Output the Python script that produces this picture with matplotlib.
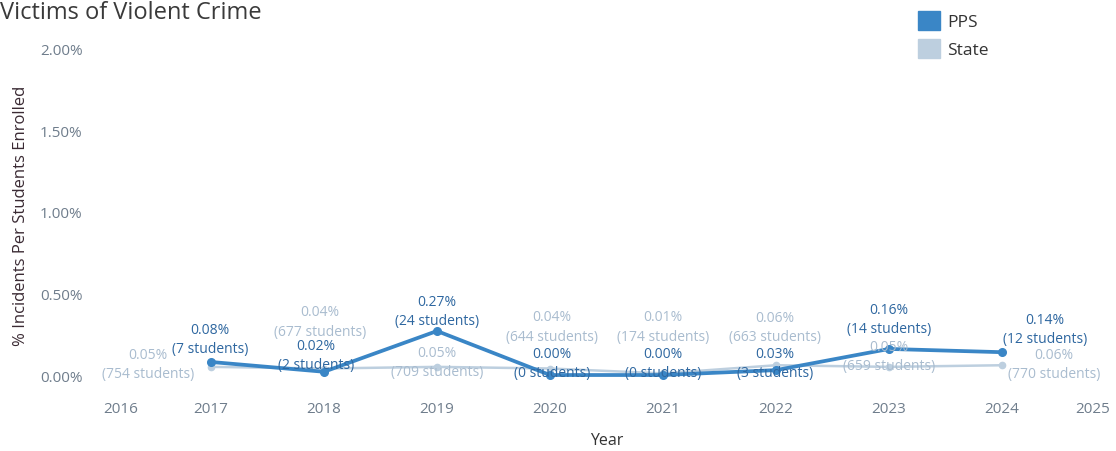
import matplotlib
matplotlib.use("Agg")
import matplotlib.pyplot as plt
from matplotlib.patches import Patch

# ---- data -------------------------------------------------------------
years = [2017, 2018, 2019, 2020, 2021, 2022, 2023, 2024]
pps_pct = [0.08, 0.02, 0.27, 0.00, 0.00, 0.03, 0.16, 0.14]
pps_students = [7, 2, 24, 0, 0, 3, 14, 12]
state_pct = [0.05, 0.04, 0.05, 0.04, 0.01, 0.06, 0.05, 0.06]
state_students = [754, 677, 709, 644, 174, 663, 659, 770]
y_ticks = [0.0, 0.5, 1.0, 1.5, 2.0]
x_tick_labels = ["2016", "2017", "2018", "2019", "2020", "2021", "2022", "2023", "2024", "2025"]

# ---- styling ----------------------------------------------------------
FONT = "Open Sans"
PPS_COLOR = "#3a86c6"
STATE_COLOR = "#bdcfdf"
PPS_TEXT = "#2e67a0"
STATE_TEXT = "#a9bccf"
TICK_TEXT = "#6f7d8c"

# label offsets in pixels (dx, dy) from each point to the label block centre
pps_offsets = [(-1, 23), (-8, 17), (0, 20), (2, 12), (0, 12), (-1, 7), (0, 30), (43, 23)]
state_offsets = [(-63, 3), (-4, 47), (0, 5), (2, 42), (0, 47), (-1, 38), (0, 11), (52, 1)]

W, H, DPI = 1116, 452, 100
fig = plt.figure(figsize=(W / DPI, H / DPI), dpi=DPI)
fig.patch.set_facecolor("white")

# axes box in pixels
left_px, right_px, top_px, bottom_px = 98, 1115, 40, 392
ax = fig.add_axes([left_px / W, 1 - bottom_px / H,
                   (right_px - left_px) / W, (bottom_px - top_px) / H])
ax.set_xlim(2016.0, 2025.0)
ax.set_ylim(-0.098, 2.061)
for s in ax.spines.values():
    s.set_visible(False)

ax.plot(years, state_pct, color=STATE_COLOR, lw=1.8, marker="o", ms=4.5,
        mfc=STATE_COLOR, mec=STATE_COLOR, zorder=2)
ax.plot(years, pps_pct, color=PPS_COLOR, lw=2.7, marker="o", ms=5.5,
        mfc=PPS_COLOR, mec=PPS_COLOR, zorder=3)

px2pt = 72 / DPI
for x, v, n, (dx, dy) in zip(years, state_pct, state_students, state_offsets):
    ax.annotate(f"{v:.2f}%\n({n} students)", (x, v),
                xytext=(dx * px2pt, dy * px2pt), textcoords="offset points",
                ha="center", va="center", fontsize=10, linespacing=1.4,
                color=STATE_TEXT, family=FONT, zorder=4)
for x, v, n, (dx, dy) in zip(years, pps_pct, pps_students, pps_offsets):
    ax.annotate(f"{v:.2f}%\n({n} students)", (x, v),
                xytext=(dx * px2pt, dy * px2pt), textcoords="offset points",
                ha="center", va="center", fontsize=10, linespacing=1.4,
                color=PPS_TEXT, family=FONT, zorder=5)

# year ticks; the outer years sit inside the padded range
x_tick_pos = [2016.2] + years + [2024.8]
ax.set_xticks(x_tick_pos)
ax.set_xticklabels(x_tick_labels)
ax.set_yticks(y_ticks)
ax.set_yticklabels([f"{t:.2f}%" for t in y_ticks])
ax.tick_params(axis="both", length=0, colors=TICK_TEXT, labelsize=11)
ax.tick_params(axis="y", pad=11)
ax.tick_params(axis="x", pad=7)
for lab in ax.get_xticklabels() + ax.get_yticklabels():
    lab.set_family(FONT)

ax.set_xlabel("Year", family=FONT, fontsize=11.5, color="#333333", labelpad=12)
ax.set_ylabel("% Incidents Per Students Enrolled", family=FONT, fontsize=12,
              color="#3a2a33", labelpad=8)

fig.text(0.0, 1 - 19 / H, "Victims of Violent Crime", family=FONT, fontsize=17,
         color="#3a3a3a", ha="left", va="baseline")

handles = [Patch(facecolor=PPS_COLOR, edgecolor=PPS_COLOR, label="PPS"),
           Patch(facecolor=STATE_COLOR, edgecolor=STATE_COLOR, label="State")]
fig.legend(handles=handles, loc="upper left", bbox_to_anchor=(902 / W, 1 + 4 / H),
           frameon=False, prop={"family": FONT, "size": 12.5}, handlelength=1.3,
           handleheight=1.3, handletextpad=0.4, labelspacing=0.5, labelcolor="#333333")

fig.savefig("out.png", dpi=DPI, facecolor="white")
